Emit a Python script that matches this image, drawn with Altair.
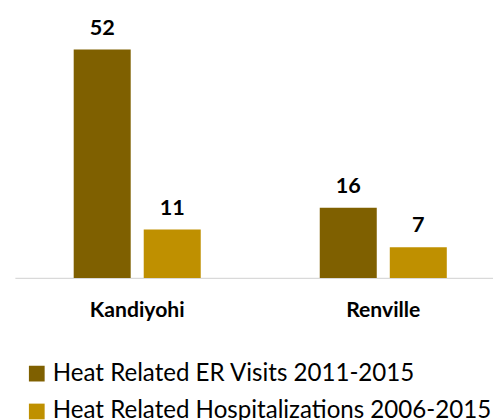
import altair as alt
import pandas as pd

counties = ["Kandiyohi", "Renville"]
series = ["Heat Related ER Visits 2011-2015", "Heat Related Hospitalizations 2006-2015"]
er_visits = [52, 16]
hospitalizations = [11, 7]

rows = []
for i, c in enumerate(counties):
    rows.append({"county": c, "series": series[0], "value": er_visits[i]})
    rows.append({"county": c, "series": series[1], "value": hospitalizations[i]})
df = pd.DataFrame(rows)

colors = ["#7F6000", "#BF9000"]
FONT = "Lato"

x = alt.X("county:N", sort=counties, title=None,
          scale=alt.Scale(paddingInner=0.4837, paddingOuter=0.2134, align=0.56),
          axis=alt.Axis(labelAngle=0, labelFont=FONT, labelFontWeight="bold",
                        labelFontSize=21.5, labelColor="#000000", labelPadding=22,
                        ticks=False, domainColor="#d9d9d9", domainWidth=1.3, grid=False))
xo = alt.XOffset("series:N", sort=series, scale=alt.Scale(paddingInner=0.186, paddingOuter=0))
y = alt.Y("value:Q", scale=alt.Scale(domain=[0, 60], nice=False), axis=None)

bars = alt.Chart(df).mark_bar().encode(
    x=x, xOffset=xo, y=y,
    color=alt.Color("series:N", sort=series, scale=alt.Scale(domain=series, range=colors),
                    legend=alt.Legend(title=None, orient="none", legendX=10, legendY=353,
                                      direction="vertical", symbolType="square",
                                      symbolSize=256, symbolStrokeWidth=0,
                                      labelFont=FONT, labelFontSize=24.5, labelColor="#000000",
                                      labelLimit=500, rowPadding=13.5, labelOffset=4)),
)

labels = alt.Chart(df).mark_text(font=FONT, fontWeight="bold", fontSize=22,
                                 color="#000000", dy=-15, baseline="alphabetic").encode(
    x=x, xOffset=xo, y=y, text=alt.Text("value:Q")
)

chart = (bars + labels).properties(
    width=486, height=268,
    autosize=alt.AutoSizeParams(type="none"),
    padding={"left": 7, "top": 3, "right": 0, "bottom": 141},
).configure_view(stroke=None)

chart.save("out.html", embed_options={"renderer": "svg", "actions": False})
